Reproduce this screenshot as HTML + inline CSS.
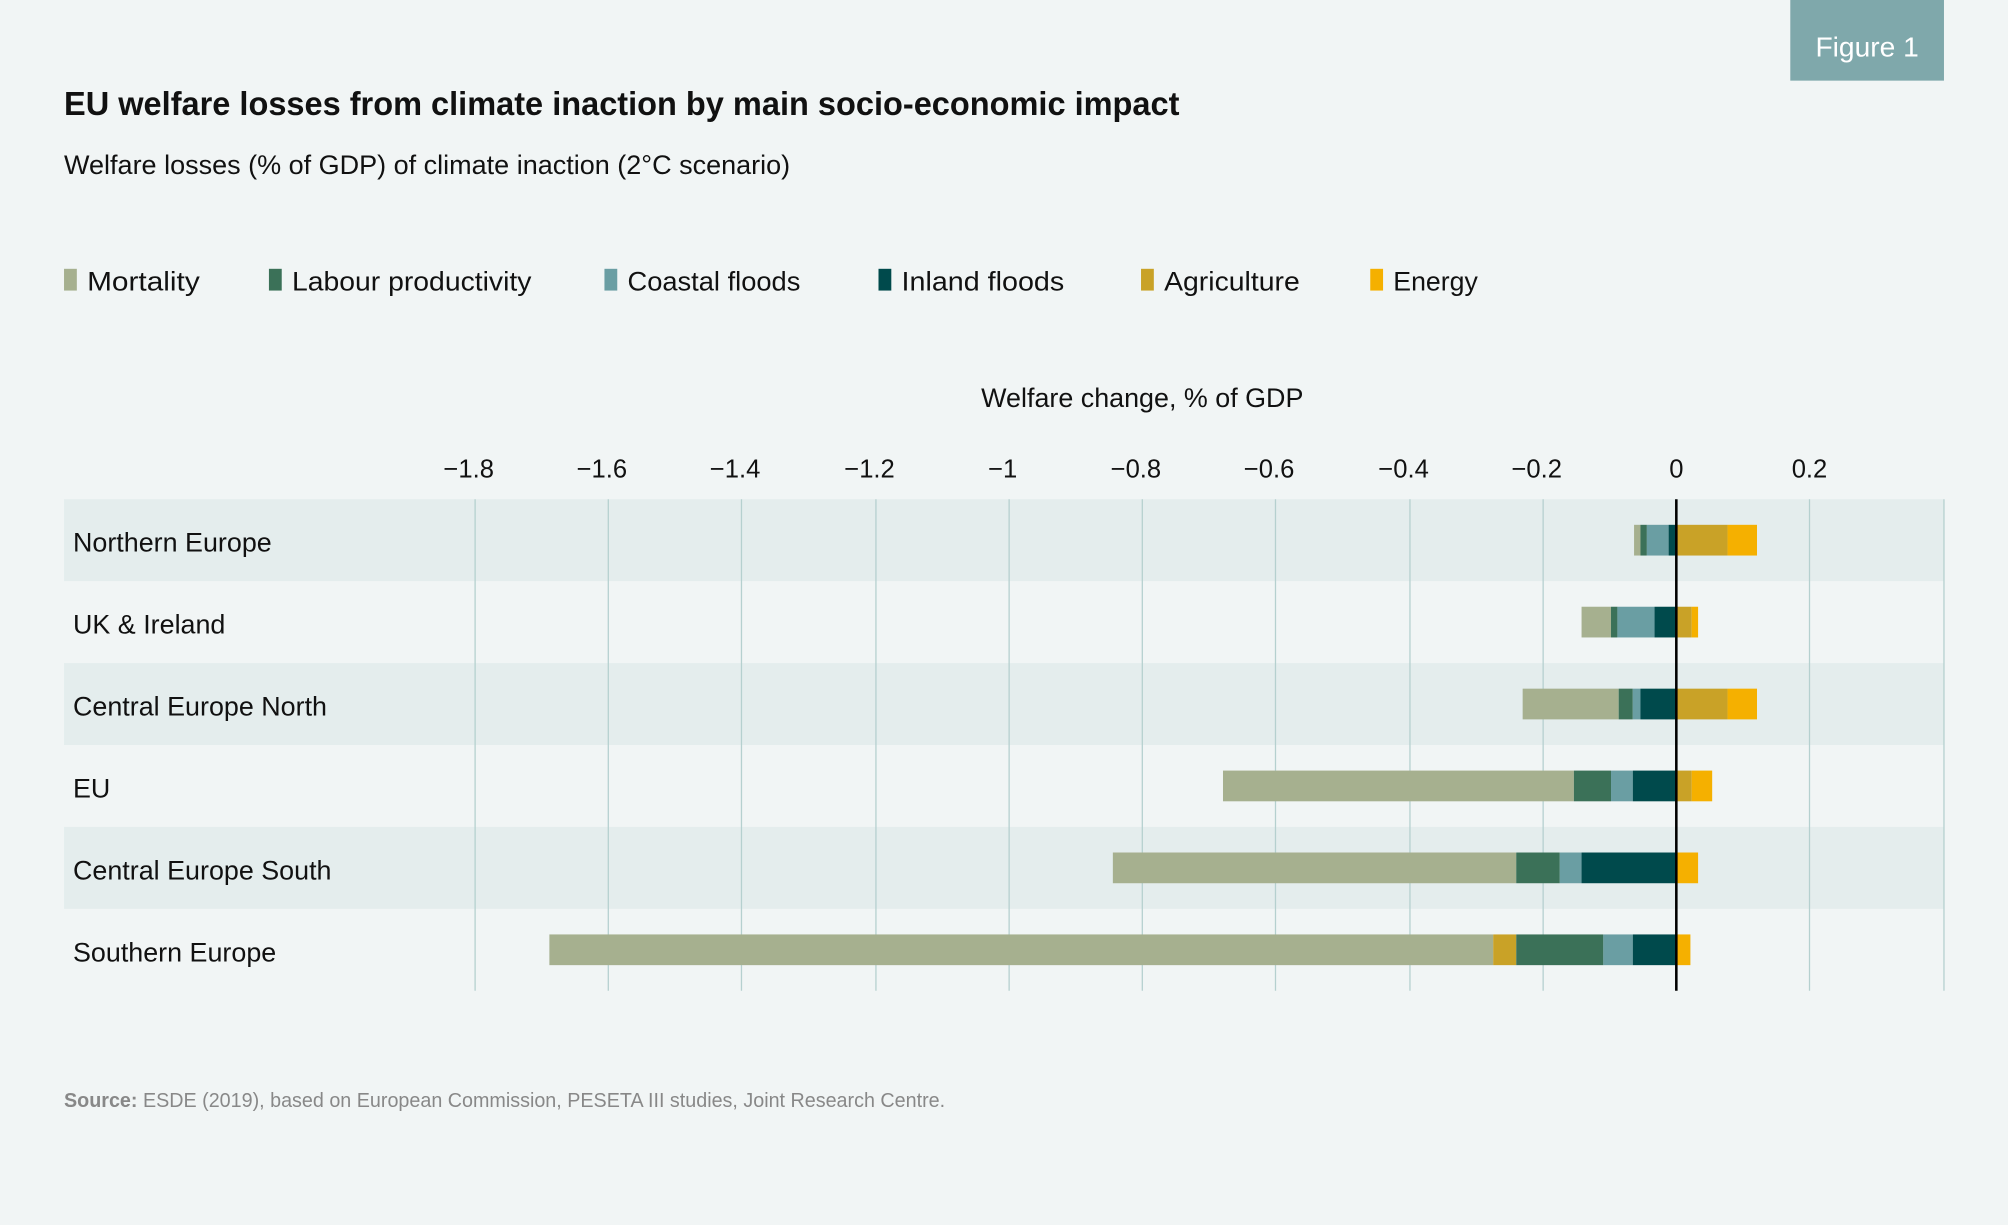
<!DOCTYPE html>
<html><head><meta charset="utf-8"><style>
html,body{margin:0;padding:0;background:#f1f5f5}
svg{display:block}
text{font-family:"Liberation Sans",sans-serif}
</style></head><body>
<svg width="2008" height="1225" viewBox="0 0 1568 957" preserveAspectRatio="none" xmlns="http://www.w3.org/2000/svg">
<rect width="1568" height="957" fill="#f1f5f5"/>
<rect x="1398" y="0" width="120" height="63" fill="#7fa8ab"/>
<text x="1458" y="44" font-size="22" fill="#fff" text-anchor="middle">Figure 1</text>
<text x="50" y="90" font-size="26" font-weight="bold" fill="#111" textLength="871" lengthAdjust="spacingAndGlyphs">EU welfare losses from climate inaction by main socio-economic impact</text>
<text x="50" y="136" font-size="21" fill="#111" textLength="567" lengthAdjust="spacingAndGlyphs">Welfare losses (% of GDP) of climate inaction (2°C scenario)</text>
<g font-size="21" fill="#111">
<rect x="50" y="210" width="10" height="17" fill="#a6b08f"/><text x="68" y="227" textLength="88" lengthAdjust="spacingAndGlyphs">Mortality</text>
<rect x="210" y="210" width="10" height="17" fill="#3b7158"/><text x="228" y="227" textLength="187" lengthAdjust="spacingAndGlyphs">Labour productivity</text>
<rect x="472" y="210" width="10" height="17" fill="#6a9ea3"/><text x="490" y="227" textLength="135" lengthAdjust="spacingAndGlyphs">Coastal floods</text>
<rect x="686" y="210" width="10" height="17" fill="#004a4c"/><text x="704" y="227" textLength="127" lengthAdjust="spacingAndGlyphs">Inland floods</text>
<rect x="891" y="210" width="10" height="17" fill="#c9a227"/><text x="909" y="227" textLength="106" lengthAdjust="spacingAndGlyphs">Agriculture</text>
<rect x="1070" y="210" width="10" height="17" fill="#f5b000"/><text x="1088" y="227" textLength="66" lengthAdjust="spacingAndGlyphs">Energy</text>
</g>
<text x="892" y="318" font-size="21" fill="#111" text-anchor="middle">Welfare change, % of GDP</text>
<g font-size="20" fill="#111" text-anchor="middle">
<text x="366" y="373">−1.8</text><text x="470" y="373">−1.6</text><text x="574" y="373">−1.4</text><text x="679" y="373">−1.2</text><text x="783" y="373">−1</text><text x="887" y="373">−0.8</text><text x="991" y="373">−0.6</text><text x="1096" y="373">−0.4</text><text x="1200" y="373">−0.2</text><text x="1309" y="373">0</text><text x="1413" y="373">0.2</text>
</g>
<rect x="50" y="390" width="1468" height="64" fill="#e4eded"/>
<rect x="50" y="518" width="1468" height="64" fill="#e4eded"/>
<rect x="50" y="646" width="1468" height="64" fill="#e4eded"/>
<g stroke="#b5d0cf" stroke-width="1">
<line x1="371" y1="390" x2="371" y2="774"/><line x1="475" y1="390" x2="475" y2="774"/><line x1="579" y1="390" x2="579" y2="774"/><line x1="684" y1="390" x2="684" y2="774"/><line x1="788" y1="390" x2="788" y2="774"/><line x1="892" y1="390" x2="892" y2="774"/><line x1="996" y1="390" x2="996" y2="774"/><line x1="1101" y1="390" x2="1101" y2="774"/><line x1="1205" y1="390" x2="1205" y2="774"/><line x1="1413" y1="390" x2="1413" y2="774"/><line x1="1518" y1="390" x2="1518" y2="774"/>
</g>
<g font-size="21" fill="#111">
<text x="57" y="431">Northern Europe</text><text x="57" y="495">UK &amp; Ireland</text><text x="57" y="559">Central Europe North</text><text x="57" y="623">EU</text><text x="57" y="687">Central Europe South</text><text x="57" y="751">Southern Europe</text>
</g>
<g>
<rect x="1276" y="410" width="5" height="24" fill="#a6b08f"/><rect x="1281" y="410" width="5" height="24" fill="#3b7158"/><rect x="1286" y="410" width="17" height="24" fill="#6a9ea3"/><rect x="1303" y="410" width="6" height="24" fill="#004a4c"/><rect x="1309" y="410" width="40" height="24" fill="#c9a227"/><rect x="1349" y="410" width="23" height="24" fill="#f5b000"/>
<rect x="1235" y="474" width="23" height="24" fill="#a6b08f"/><rect x="1258" y="474" width="5" height="24" fill="#3b7158"/><rect x="1263" y="474" width="29" height="24" fill="#6a9ea3"/><rect x="1292" y="474" width="17" height="24" fill="#004a4c"/><rect x="1309" y="474" width="12" height="24" fill="#c9a227"/><rect x="1321" y="474" width="5" height="24" fill="#f5b000"/>
<rect x="1189" y="538" width="75" height="24" fill="#a6b08f"/><rect x="1264" y="538" width="11" height="24" fill="#3b7158"/><rect x="1275" y="538" width="6" height="24" fill="#6a9ea3"/><rect x="1281" y="538" width="28" height="24" fill="#004a4c"/><rect x="1309" y="538" width="40" height="24" fill="#c9a227"/><rect x="1349" y="538" width="23" height="24" fill="#f5b000"/>
<rect x="955" y="602" width="274" height="24" fill="#a6b08f"/><rect x="1229" y="602" width="29" height="24" fill="#3b7158"/><rect x="1258" y="602" width="17" height="24" fill="#6a9ea3"/><rect x="1275" y="602" width="34" height="24" fill="#004a4c"/><rect x="1309" y="602" width="12" height="24" fill="#c9a227"/><rect x="1321" y="602" width="16" height="24" fill="#f5b000"/>
<rect x="869" y="666" width="315" height="24" fill="#a6b08f"/><rect x="1184" y="666" width="34" height="24" fill="#3b7158"/><rect x="1218" y="666" width="17" height="24" fill="#6a9ea3"/><rect x="1235" y="666" width="74" height="24" fill="#004a4c"/><rect x="1309" y="666" width="17" height="24" fill="#f5b000"/>
<rect x="429" y="730" width="737" height="24" fill="#a6b08f"/><rect x="1166" y="730" width="18" height="24" fill="#c9a227"/><rect x="1184" y="730" width="68" height="24" fill="#3b7158"/><rect x="1252" y="730" width="23" height="24" fill="#6a9ea3"/><rect x="1275" y="730" width="34" height="24" fill="#004a4c"/><rect x="1309" y="730" width="11" height="24" fill="#f5b000"/>
</g>
<line x1="1309" y1="390" x2="1309" y2="774" stroke="#000" stroke-width="2"/>
<text x="50" y="865" font-size="16" fill="#888" textLength="688" lengthAdjust="spacingAndGlyphs"><tspan font-weight="bold">Source:</tspan> ESDE (2019), based on European Commission, PESETA III studies, Joint Research Centre.</text>
</svg>
</body></html>
